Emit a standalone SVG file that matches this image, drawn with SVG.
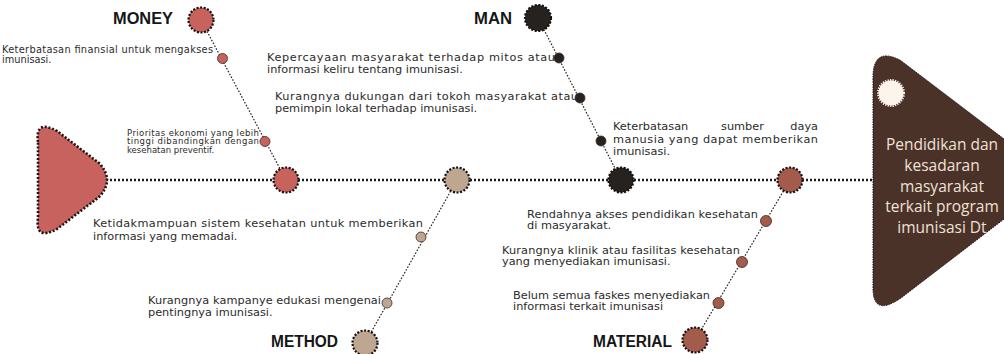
<svg xmlns="http://www.w3.org/2000/svg" width="1004" height="354" viewBox="0 0 1004 354">
<style>
.spine{stroke:#1e1a18;stroke-width:2.6;stroke-dasharray:2 2;fill:none}
.bone{stroke:#2a2422;stroke-width:1.2;stroke-dasharray:1.6 1.6;fill:none}
.big{stroke:#141110;stroke-width:2.2;stroke-dasharray:2 1.6}
.small{stroke:#3a2824;stroke-width:0.8}
.t{font-family:"DejaVu Sans",sans-serif;fill:#2b2b2b}
.cat{font-family:"Liberation Sans",Arial,sans-serif;font-weight:bold;font-size:16px;fill:#161616}
.head{font-family:"Open Sans",sans-serif;font-size:15.5px;fill:#efe1d4;text-anchor:middle}
.money{fill:#c7625d}.method{fill:#bea691}.man{fill:#262220}.material{fill:#a35b4b}
</style>
<g id="connectors">
<line class="spine" x1="106" y1="180" x2="873" y2="180"/>
<line class="bone" x1="201" y1="20" x2="286" y2="180"/>
<line class="bone" x1="538" y1="18" x2="621" y2="180"/>
<line class="bone" x1="457" y1="180" x2="365" y2="343"/>
<line class="bone" x1="790" y1="180" x2="695" y2="340"/>
</g>
<g id="tail">
<path d="M38,142 Q35,119 57,131 L99,163 Q115,180 99,197 L57,229 Q35,241 38,218 Z" fill="#c8625e" stroke="#1e1414" stroke-width="2.6" stroke-dasharray="2 1.8"/>
</g>
<g id="head">
<path d="M873,80 Q872,46 900,60 L1008,142 L1008,216 L901,298 Q872,318 873,286 Z" fill="#4b3229" stroke="#1a1210" stroke-width="1" stroke-dasharray="1.5 1"/>
<circle cx="891" cy="93" r="12.5" fill="#fdf5ec" stroke="#fdf5ec" stroke-width="3" stroke-dasharray="1.2 1.2"/>
<text class="head"><tspan x="942" y="150">Pendidikan dan</tspan><tspan x="942" y="171">kesadaran</tspan><tspan x="942" y="191.5">masyarakat</tspan><tspan x="942" y="212">terkait program</tspan><tspan x="942" y="232.5">imunisasi Dt</tspan></text>
</g>
<g id="money">
<circle class="big money" cx="201" cy="20" r="12.5"/>
<text class="cat" x="113" y="24" textLength="60" lengthAdjust="spacingAndGlyphs">MONEY</text>
<circle class="big money" cx="286" cy="180" r="12.5"/>
<circle class="small money" cx="222.5" cy="58.5" r="5"/>
<circle class="small money" cx="265" cy="141.5" r="5"/>
<text class="t" font-size="9.8"><tspan x="2" y="53" textLength="211">Keterbatasan finansial untuk mengakses</tspan><tspan x="2" y="62.5">imunisasi.</tspan></text>
<text class="t" font-size="8.5"><tspan x="127" y="135.5" textLength="132">Prioritas ekonomi yang lebih</tspan><tspan x="127" y="144" textLength="132">tinggi dibandingkan dengan</tspan><tspan x="127" y="152.5">kesehatan preventif.</tspan></text>
</g>
<g id="man">
<circle class="big man" cx="538" cy="18" r="13"/>
<text class="cat" x="474" y="24" textLength="38" lengthAdjust="spacingAndGlyphs">MAN</text>
<circle class="big man" cx="621" cy="180" r="12.5"/>
<circle class="small man" cx="559" cy="58" r="5"/>
<circle class="small man" cx="580" cy="98" r="5"/>
<circle class="small man" cx="601" cy="141" r="5"/>
<text class="t" font-size="11.3"><tspan x="267" y="60.5" textLength="288">Kepercayaan masyarakat terhadap mitos atau</tspan><tspan x="267" y="72.5">informasi keliru tentang imunisasi.</tspan></text>
<text class="t" font-size="11.3"><tspan x="275" y="99.5" textLength="303">Kurangnya dukungan dari tokoh masyarakat atau</tspan><tspan x="275" y="111.5">pemimpin lokal terhadap imunisasi.</tspan></text>
<text class="t" font-size="11.3"><tspan x="613" y="130">Keterbatasan</tspan><tspan x="721" y="130">sumber</tspan><tspan x="818" y="130" text-anchor="end">daya</tspan><tspan x="613" y="142.5" textLength="205">manusia yang dapat memberikan</tspan><tspan x="613" y="155">imunisasi.</tspan></text>
</g>
<g id="method">
<circle class="big method" cx="457" cy="180" r="12.5"/>
<circle class="big method" cx="365" cy="343" r="12.5"/>
<text class="cat" x="271" y="347" textLength="67" lengthAdjust="spacingAndGlyphs">METHOD</text>
<circle class="small method" cx="421" cy="237" r="5"/>
<circle class="small method" cx="387" cy="303" r="5"/>
<text class="t" font-size="11.3"><tspan x="93" y="227" textLength="330">Ketidakmampuan sistem kesehatan untuk memberikan</tspan><tspan x="93" y="239.5">informasi yang memadai.</tspan></text>
<text class="t" font-size="11.3"><tspan x="148" y="304" textLength="233">Kurangnya kampanye edukasi mengenai</tspan><tspan x="148" y="316">pentingnya imunisasi.</tspan></text>
</g>
<g id="material">
<circle class="big material" cx="790" cy="180" r="12.5"/>
<circle class="big material" cx="695" cy="340" r="12.5"/>
<text class="cat" x="593" y="347" textLength="79" lengthAdjust="spacingAndGlyphs">MATERIAL</text>
<circle class="small material" cx="766" cy="221" r="5.5"/>
<circle class="small material" cx="742" cy="262" r="5.5"/>
<circle class="small material" cx="718.5" cy="303" r="5.5"/>
<text class="t" font-size="11.3"><tspan x="527" y="217.5" textLength="231">Rendahnya akses pendidikan kesehatan</tspan><tspan x="527" y="229">di masyarakat.</tspan></text>
<text class="t" font-size="11.3"><tspan x="502" y="253.5" textLength="238">Kurangnya klinik atau fasilitas kesehatan</tspan><tspan x="502" y="265">yang menyediakan imunisasi.</tspan></text>
<text class="t" font-size="11.3"><tspan x="513" y="298.5" textLength="197">Belum semua faskes menyediakan</tspan><tspan x="513" y="309.5">informasi terkait imunisasi</tspan></text>
</g>
</svg>
